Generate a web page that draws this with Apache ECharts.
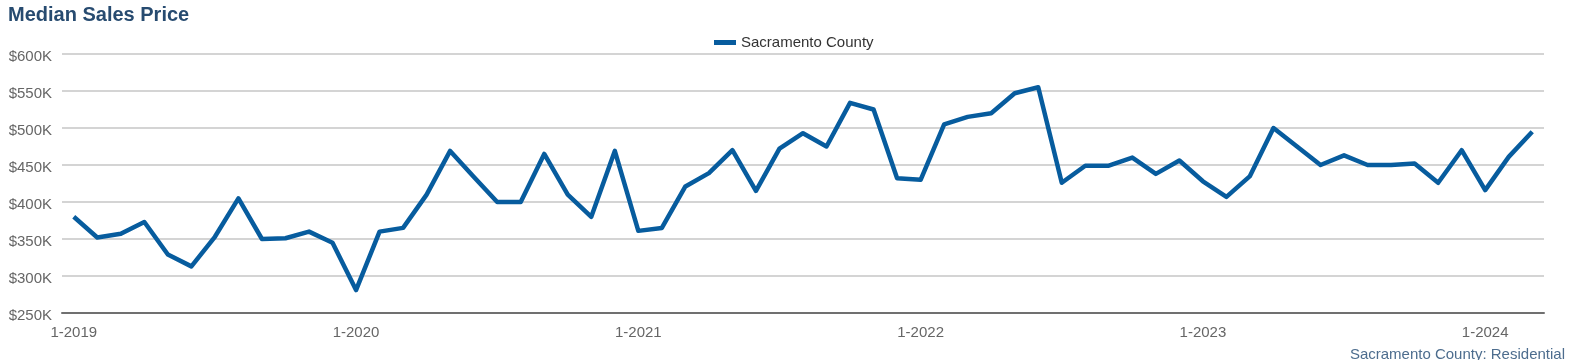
<!DOCTYPE html>
<html>
<head>
<meta charset="utf-8">
<script src="https://cdn.jsdelivr.net/npm/echarts@6/dist/echarts.min.js"></script>
<style>
html,body{margin:0;padding:0;background:#fff;}
#chart{width:1572px;height:360px;}
</style>
</head>
<body>
<div id="chart"></div>
<script>
var years = [2019, 2020, 2021, 2022, 2023, 2024];
var seriesName = 'Sacramento County';
var values2019 = [380, 352, 357, 373, 329, 313, 353, 405, 350, 351, 360, 345];
var values2020 = [281, 360, 365, 410, 469, 434, 400, 400, 465, 410, 380, 469];
var values2021 = [361, 365, 421, 439, 470, 415, 472, 493, 475, 534, 525, 432];
var values2022 = [430, 505, 515, 520, 547, 555, 426, 449, 449, 460, 438, 456];
var values2023 = [428, 407, 435, 500, 475, 450, 463, 450, 450, 452, 426, 470];
var values2024 = [416, 461, 495];
var yTicks = [250000, 300000, 350000, 400000, 450000, 500000, 550000, 600000];

var allValues = [values2019, values2020, values2021, values2022, values2023, values2024];
var categories = [];
var data = [];
allValues.forEach(function (arr, yi) {
  arr.forEach(function (v, mi) {
    categories.push((mi + 1) + '-' + years[yi]);
    data.push(v * 1000);
  });
});

var font = 'Arial, "Liberation Sans", sans-serif';
var chart = echarts.init(document.getElementById('chart'), null, {renderer: 'canvas'});
function isJan(idx) { return categories[idx].indexOf('1-') === 0; }
chart.setOption({
  animation: false,
  title: [{
    text: 'Median Sales Price', left: 3, top: 0,
    textStyle: {fontFamily: font, fontSize: 20, fontWeight: 'bold', color: '#274b70'}
  }, {
    text: 'Sacramento County: Residential', right: 2, top: 342,
    textStyle: {fontFamily: font, fontSize: 15, fontWeight: 'normal', color: '#4d6d8e'}
  }],
  legend: {
    left: 709, top: 30, itemWidth: 22, itemHeight: 5, icon: 'rect', itemGap: 10,
    textStyle: {fontFamily: font, fontSize: 15, color: '#333'},
    data: [seriesName]
  },
  grid: {left: 62, right: 28, top: 54, bottom: 47},
  xAxis: {
    type: 'category', data: categories, boundaryGap: true,
    axisLine: {lineStyle: {color: '#707070', width: 2}},
    axisTick: {alignWithLabel: true, interval: function (i) { return isJan(i); }, length: 6, lineStyle: {color: '#707070', width: 2}},
    axisLabel: {interval: function (i) { return isJan(i); }, fontFamily: font, fontSize: 15, color: '#666', margin: 12},
    splitLine: {show: false}
  },
  yAxis: {
    type: 'value', min: yTicks[0], max: yTicks[yTicks.length - 1], interval: 50000,
    axisLine: {show: false}, axisTick: {show: false},
    axisLabel: {margin: 10,
      formatter: function (v) { return '{a|$' + (v / 1000) + 'K}'; },
      rich: {a: {fontFamily: font, fontSize: 15, color: '#666', padding: [6, 0, 0, 0]}}},
    splitLine: {lineStyle: {color: '#c6c6c6', width: 1.5}}
  },
  series: [{
    name: seriesName, type: 'line', data: data, showSymbol: false, symbol: 'none',
    lineStyle: {color: '#075c9e', width: 4.5, join: 'round'}, itemStyle: {color: '#075c9e'}
  }]
});
</script>
</body>
</html>
